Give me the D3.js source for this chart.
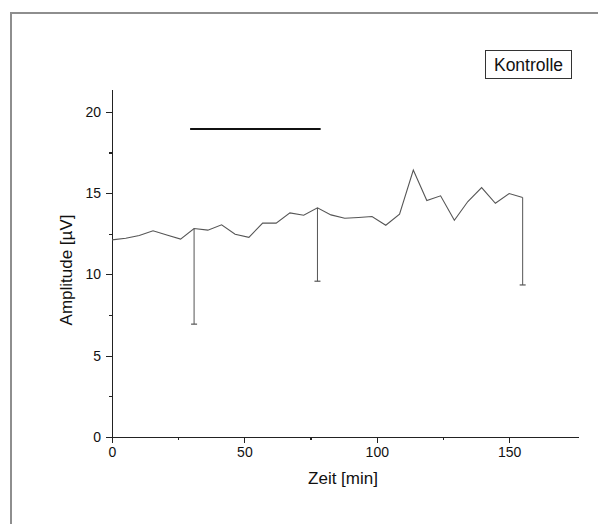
<!DOCTYPE html>
<html>
<head>
    <meta charset="UTF-8">
    <title>Kontrolle</title>
    <style type="text/css">
        body { margin: 0; background: #fff; }
        svg { display: block; font-family: Arial, "Liberation Sans", sans-serif; }
        .axis path, .axis line { stroke: #222; shape-rendering: crispEdges; }
        .axis text { font-size: 14px; fill: #111; }
        .label { font-size: 17px; text-anchor: middle; fill: #111; }
    </style>
    <script src="https://d3js.org/d3.v7.min.js"></script>
</head>
<body>
<script type="text/javascript">
    // time points (min) and amplitudes (µV)
    const zeit = [0, 5.2, 10.3, 15.5, 20.7, 25.9, 31.0, 36.2, 41.4, 46.5, 51.7, 56.9, 62.0, 67.2, 72.4,
        77.6, 82.7, 87.9, 93.1, 98.2, 103.4, 108.6, 113.8, 118.9, 124.1, 129.3, 134.4, 139.6, 144.8, 150.0, 155.1];
    const amplitude = [12.12, 12.22, 12.39, 12.68, 12.42, 12.17, 12.82, 12.72, 13.05, 12.47, 12.28, 13.15, 13.15, 13.78, 13.64,
        14.09, 13.66, 13.45, 13.50, 13.56, 13.02, 13.70, 16.41, 14.54, 14.83, 13.33, 14.48, 15.34, 14.37, 14.97, 14.73];
    // error bars (only lower half drawn)
    const fehlerIndex = [6, 15, 30];
    const fehler = [5.88, 4.51, 5.38];
    // application bar
    const balkenZeit = [29.5, 78.8];
    const balkenWert = 18.94;
    const xTicks = [0, 50, 100, 150];
    const xMinor = [25, 75, 125];
    const yTicks = [0, 5, 10, 15, 20];
    const yMinor = [2.5, 7.5, 12.5, 17.5];

    const W = 598, H = 524;
    const svg = d3.select("body").append("svg")
        .attr("width", W)
        .attr("height", H);

    // outer frame
    svg.append("rect")
        .attr("x", 11).attr("y", 13)
        .attr("width", 620).attr("height", 620)
        .attr("fill", "none")
        .attr("stroke", "#8e8e8e")
        .attr("stroke-width", 2);

    const x = d3.scaleLinear().domain([0, 176]).range([112, 578]);
    const y = d3.scaleLinear().domain([0, 21.4]).range([437, 89]);

    // axes
    svg.append("g").attr("class", "axis")
        .attr("transform", "translate(0,437)")
        .call(d3.axisBottom(x).tickValues(xTicks).tickSize(6).tickSizeOuter(0).tickPadding(4));
    svg.append("g").attr("class", "axis")
        .attr("transform", "translate(0,437)")
        .call(d3.axisBottom(x).tickValues(xMinor).tickSize(3).tickFormat("").tickSizeOuter(0))
        .select(".domain").remove();

    svg.append("g").attr("class", "axis")
        .attr("transform", "translate(112,0)")
        .call(d3.axisLeft(y).tickValues(yTicks).tickSize(6).tickSizeOuter(0).tickPadding(5));
    svg.append("g").attr("class", "axis")
        .attr("transform", "translate(112,0)")
        .call(d3.axisLeft(y).tickValues(yMinor).tickSize(3).tickFormat("").tickSizeOuter(0))
        .select(".domain").remove();

    svg.selectAll(".axis .domain").attr("stroke-width", 1.6);
    svg.selectAll(".axis line").attr("stroke-width", 1.2);

    // axis labels
    svg.append("text")
        .attr("class", "label")
        .attr("x", 343).attr("y", 484)
        .text("Zeit [min]");
    svg.append("text")
        .attr("class", "label")
        .attr("transform", "translate(72,270) rotate(-90)")
        .text("Amplitude [µV]");

    // error bars
    fehlerIndex.forEach((idx, k) => {
        const xe = x(zeit[idx]);
        const y0 = y(amplitude[idx]);
        const y1 = y(amplitude[idx] - fehler[k]);
        svg.append("line")
            .attr("x1", xe).attr("x2", xe)
            .attr("y1", y0).attr("y2", y1)
            .attr("stroke", "#555").attr("stroke-width", 1);
        svg.append("line")
            .attr("x1", xe - 3).attr("x2", xe + 3)
            .attr("y1", y1).attr("y2", y1)
            .attr("stroke", "#555").attr("stroke-width", 1.2);
    });

    // data line
    const line = d3.line()
        .x((d, i) => x(zeit[i]))
        .y(d => y(d));
    svg.append("path")
        .datum(amplitude)
        .attr("fill", "none")
        .attr("stroke", "#555")
        .attr("stroke-width", 1.1)
        .attr("d", line);

    // black application bar
    svg.append("line")
        .attr("x1", x(balkenZeit[0])).attr("x2", x(balkenZeit[1]))
        .attr("y1", y(balkenWert)).attr("y2", y(balkenWert))
        .attr("stroke", "#111")
        .attr("stroke-width", 2);

    // legend box
    svg.append("rect")
        .attr("x", 485.5).attr("y", 50.5)
        .attr("width", 86).attr("height", 28)
        .attr("fill", "#fff")
        .attr("stroke", "#333")
        .attr("stroke-width", 1);
    svg.append("text")
        .attr("x", 528.5).attr("y", 71)
        .attr("text-anchor", "middle")
        .attr("font-size", "17.5px")
        .attr("fill", "#111")
        .text("Kontrolle");
</script>
</body>
</html>
